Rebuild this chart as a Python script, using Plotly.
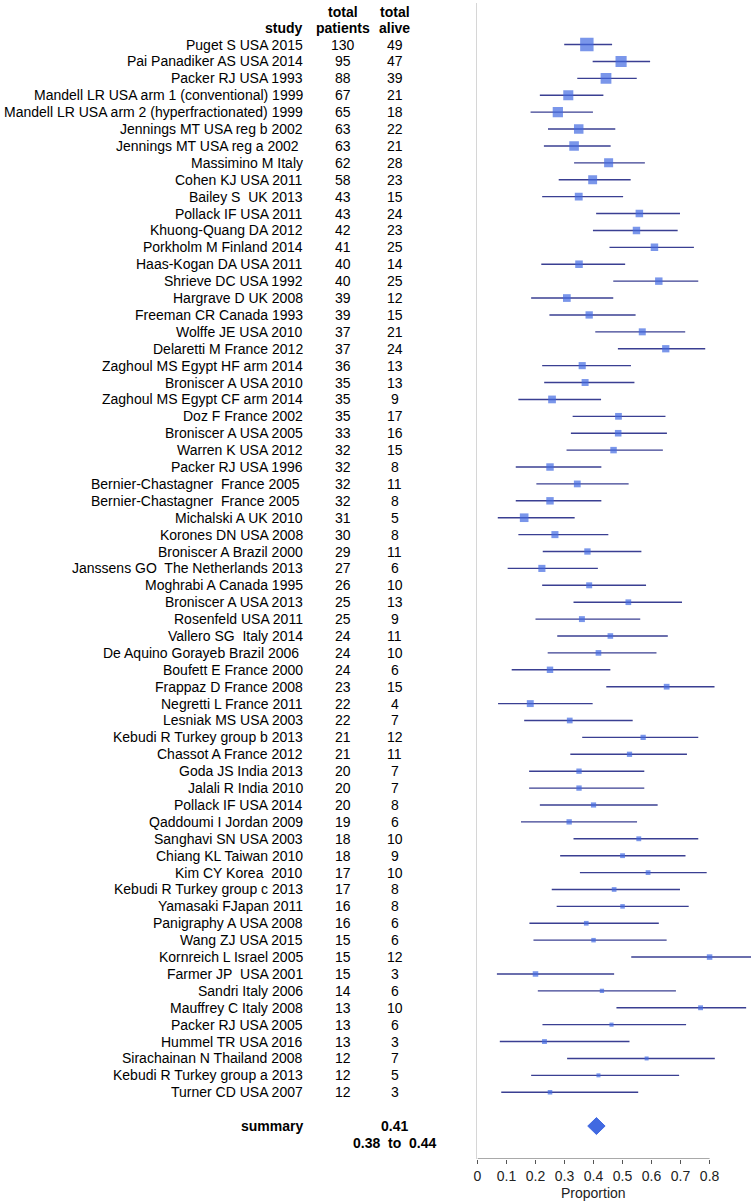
import plotly.graph_objects as go

NB = "\u00a0"
studies = [
    "Puget S USA 2015", "Pai Panadiker AS USA 2014", "Packer RJ USA 1993",
    "Mandell LR USA arm 1 (conventional) 1999", "Mandell LR USA arm 2 (hyperfractionated) 1999",
    "Jennings MT USA reg b 2002", "Jennings MT USA reg a 2002" + NB, "Massimino M Italy",
    "Cohen KJ USA 2011", "Bailey S" + NB + " UK 2013", "Pollack IF USA 2011", "Khuong-Quang DA 2012",
    "Porkholm M Finland 2014", "Haas-Kogan DA USA 2011", "Shrieve DC USA 1992",
    "Hargrave D UK 2008", "Freeman CR Canada 1993", "Wolffe JE USA 2010",
    "Delaretti M France 2012", "Zaghoul MS Egypt HF arm 2014", "Broniscer A USA 2010",
    "Zaghoul MS Egypt CF arm 2014", "Doz F France 2002", "Broniscer A USA 2005",
    "Warren K USA 2012", "Packer RJ USA 1996", "Bernier-Chastagner" + NB + " France 2005" + NB,
    "Bernier-Chastagner" + NB + " France 2005" + NB, "Michalski A UK 2010", "Korones DN USA 2008",
    "Broniscer A Brazil 2000", "Janssens GO" + NB + " The Netherlands 2013", "Moghrabi A Canada 1995",
    "Broniscer A USA 2013", "Rosenfeld USA 2011", "Vallero SG" + NB + " Italy 2014",
    "De Aquino Gorayeb Brazil 2006" + NB, "Boufett E France 2000", "Frappaz D France 2008",
    "Negretti L France 2011", "Lesniak MS USA 2003", "Kebudi R Turkey group b 2013",
    "Chassot A France 2012", "Goda JS India 2013", "Jalali R India 2010",
    "Pollack IF USA 2014", "Qaddoumi I Jordan 2009", "Sanghavi SN USA 2003",
    "Chiang KL Taiwan 2010", "Kim CY Korea" + NB + " 2010", "Kebudi R Turkey group c 2013",
    "Yamasaki FJapan 2011", "Panigraphy A USA 2008", "Wang ZJ USA 2015",
    "Kornreich L Israel 2005", "Farmer JP" + NB + " USA 2001", "Sandri Italy 2006",
    "Mauffrey C Italy 2008", "Packer RJ USA 2005", "Hummel TR USA 2016",
    "Sirachainan N Thailand 2008", "Kebudi R Turkey group a 2013", "Turner CD USA 2007",
]
total_patients = [130, 95, 88, 67, 65, 63, 63, 62, 58, 43, 43, 42, 41, 40, 40, 39, 39, 37, 37, 36,
                  35, 35, 35, 33, 32, 32, 32, 32, 31, 30, 29, 27, 26, 25, 25, 24, 24, 24, 23, 22,
                  22, 21, 21, 20, 20, 20, 19, 18, 18, 17, 17, 16, 16, 15, 15, 15, 14, 13, 13, 13,
                  12, 12, 12]
total_alive = [49, 47, 39, 21, 18, 22, 21, 28, 23, 15, 24, 23, 25, 14, 25, 12, 15, 21, 24, 13,
               13, 9, 17, 16, 15, 8, 11, 8, 5, 8, 11, 6, 10, 13, 9, 11, 10, 6, 15, 4,
               7, 12, 11, 7, 7, 8, 6, 10, 9, 10, 8, 8, 6, 6, 12, 3, 6, 10, 6, 3,
               7, 5, 3]
proportion = [0.377, 0.495, 0.443, 0.313, 0.277, 0.349, 0.333, 0.452, 0.397, 0.349, 0.558, 0.548,
              0.610, 0.350, 0.625, 0.308, 0.385, 0.568, 0.649, 0.361, 0.371, 0.257, 0.486, 0.485,
              0.469, 0.250, 0.344, 0.250, 0.161, 0.267, 0.379, 0.222, 0.385, 0.520, 0.360, 0.458,
              0.417, 0.250, 0.652, 0.182, 0.318, 0.571, 0.524, 0.350, 0.350, 0.400, 0.316, 0.556,
              0.500, 0.588, 0.471, 0.500, 0.375, 0.400, 0.800, 0.200, 0.429, 0.769, 0.462, 0.231,
              0.583, 0.417, 0.250]
ci_lower = [0.299, 0.397, 0.344, 0.215, 0.183, 0.243, 0.229, 0.333, 0.280, 0.223, 0.409, 0.398,
            0.455, 0.220, 0.468, 0.185, 0.248, 0.406, 0.484, 0.223, 0.230, 0.141, 0.328, 0.322,
            0.307, 0.132, 0.203, 0.132, 0.070, 0.141, 0.225, 0.104, 0.223, 0.331, 0.200, 0.275,
            0.242, 0.118, 0.444, 0.071, 0.161, 0.361, 0.320, 0.178, 0.178, 0.215, 0.150, 0.331,
            0.285, 0.353, 0.256, 0.273, 0.179, 0.193, 0.530, 0.067, 0.208, 0.479, 0.224, 0.077,
            0.309, 0.185, 0.082]
ci_upper = [0.464, 0.595, 0.549, 0.434, 0.398, 0.475, 0.459, 0.577, 0.528, 0.502, 0.698, 0.690,
            0.746, 0.509, 0.761, 0.468, 0.545, 0.716, 0.785, 0.529, 0.541, 0.426, 0.648, 0.653,
            0.639, 0.427, 0.521, 0.427, 0.335, 0.451, 0.565, 0.415, 0.581, 0.705, 0.561, 0.656,
            0.617, 0.458, 0.817, 0.397, 0.535, 0.761, 0.722, 0.575, 0.575, 0.621, 0.550, 0.761,
            0.717, 0.790, 0.698, 0.728, 0.625, 0.652, 0.950, 0.471, 0.684, 0.926, 0.719, 0.524,
            0.818, 0.695, 0.554]
summary_est, summary_lo, summary_hi = 0.41, 0.38, 0.44
summary_label = "0.41"
summary_ci_label = "0.38" + NB + NB + "to" + NB + NB + "0.44"
tick_vals = [0, 0.1, 0.2, 0.3, 0.4, 0.5, 0.6, 0.7, 0.8]
tick_text = ["0", "0.1", "0.2", "0.3", "0.4", "0.5", "0.6", "0.7", "0.8"]

W, H = 751, 1202
FONT = "Liberation Sans, Arial, sans-serif"
rows = list(range(1, len(studies) + 1))
summary_row = len(studies) + 2
x_study, x_pat, x_alive = 302.7 / W, 340.7 / W, 392.8 / W

# CI lines
lx, ly = [], []
for r, lo, hi in zip(rows, ci_lower, ci_upper):
    lx += [lo, hi, None]
    ly += [r, r, None]

# box sizes proportional to 1/se (precision)
sizes = []
for p, n in zip(proportion, total_patients):
    se = (p * (1 - p) / n) ** 0.5
    sizes.append(0.57 / se)

fig = go.Figure()
fig.add_trace(go.Scatter(x=lx, y=ly, mode="lines",
                         line=dict(color="#3a3f92", width=1.4), hoverinfo="skip", showlegend=False))
fig.add_trace(go.Scatter(x=proportion, y=rows, mode="markers",
                         marker=dict(symbol="square", size=sizes, color="#4169E1", line=dict(width=0)),
                         showlegend=False))
dh = 0.5
fig.add_trace(go.Scatter(x=[summary_lo, summary_est, summary_hi, summary_est, summary_lo],
                         y=[summary_row, summary_row - dh, summary_row, summary_row + dh, summary_row],
                         mode="lines", fill="toself", fillcolor="#4169E1",
                         line=dict(color="#4169E1", width=1), showlegend=False))
# axis line only over tick range
fig.add_trace(go.Scatter(x=[tick_vals[0], tick_vals[-1]], y=[66.95, 66.95], mode="lines",
                         line=dict(color="#555555", width=1.2), cliponaxis=False,
                         hoverinfo="skip", showlegend=False))

ann = []
def txt(x, y, s, anchor, bold=False):
    ann.append(dict(x=x, y=y, xref="paper", yref="y", text=("<b>%s</b>" % s) if bold else s,
                    showarrow=False, xanchor=anchor, yanchor="middle",
                    font=dict(family=FONT, size=14, color="#000000")))

txt(x_pat, -0.95, "total", "center", True)
txt(x_alive, -0.95, "total", "center", True)
txt(x_study, 0.03, "study", "right", True)
txt(x_pat, 0.03, "patients", "center", True)
txt(x_alive, 0.03, "alive", "center", True)
for r, s, n, a in zip(rows, studies, total_patients, total_alive):
    txt(x_study, r, s, "right")
    txt(x_pat, r, str(n), "center")
    txt(x_alive, r, str(a), "center")
txt(x_study, summary_row, "summary", "right", True)
txt(x_alive, summary_row, summary_label, "center", True)
txt(x_alive, summary_row + 1, summary_ci_label, "center", True)
ann.append(dict(x=0.4, y=-0.029, xref="x", yref="paper", text="Proportion", showarrow=False,
                xanchor="center", yanchor="middle", font=dict(family=FONT, size=14, color="#222222")))

fig.update_layout(
    width=W, height=H, margin=dict(l=0, r=0, t=3, b=43),
    paper_bgcolor="white", plot_bgcolor="white",
    font=dict(family=FONT, size=14, color="#222222"),
    annotations=ann,
    xaxis=dict(domain=[476 / W, 1], range=[0, (W - 476) / 291.7], tickvals=tick_vals, ticktext=tick_text,
               ticks="outside", ticklen=4, tickcolor="#555555", showline=False, showgrid=False,
               zeroline=False, tickfont=dict(family=FONT, size=14, color="#222222")),
    yaxis=dict(range=[66.95, -1.46], showticklabels=False, showgrid=False, zeroline=False,
               showline=True, linecolor="#d6d6d6", linewidth=1.2, ticks=""),
)
fig.write_html("out.html", config={"displayModeBar": False},
               post_script="document.body.style.margin='0px';document.body.style.overflow='hidden';")
